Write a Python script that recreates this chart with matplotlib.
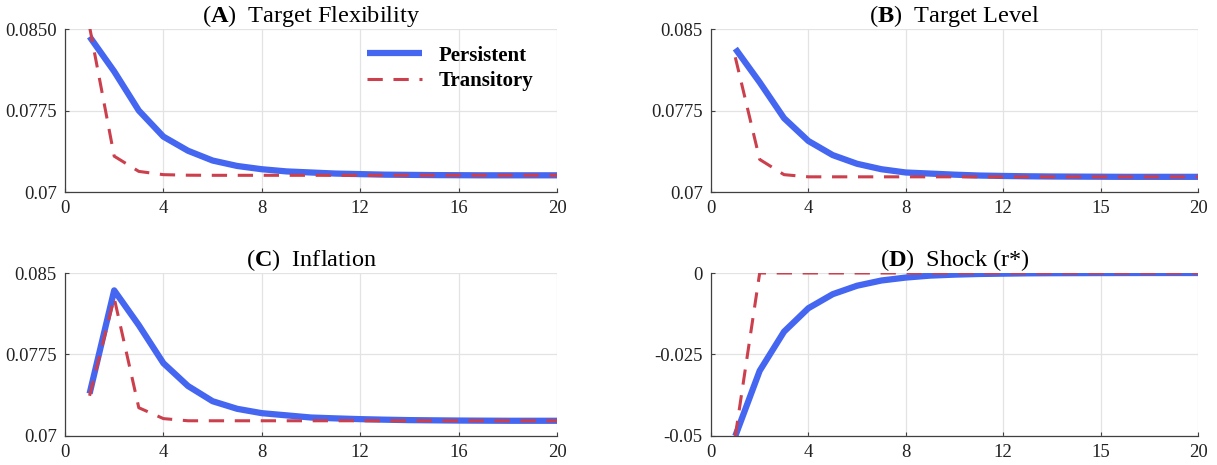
import matplotlib
matplotlib.use("Agg")
import matplotlib.pyplot as plt

plt.rcParams['font.family'] = ['Liberation Serif', 'DejaVu Serif']
plt.rcParams['mathtext.fontset'] = 'custom'
plt.rcParams['mathtext.rm'] = 'Liberation Serif'
plt.rcParams['mathtext.bf'] = 'Liberation Serif:bold'

periods = list(range(1, 21))

# (A) Target Flexibility
flex_pers = [0.0843, 0.0811, 0.0775, 0.0751, 0.0738, 0.0729, 0.0724, 0.0721, 0.0719, 0.0718,
             0.0717, 0.07165, 0.0716, 0.07158, 0.07156, 0.07155, 0.07154, 0.07154, 0.07154, 0.07154]
flex_trans = [0.0852, 0.0733, 0.0719, 0.0716, 0.07155, 0.07154, 0.07154, 0.07154, 0.07154, 0.07154,
              0.07154, 0.07154, 0.07154, 0.07154, 0.07154, 0.07154, 0.07154, 0.07154, 0.07154, 0.07154]

# (B) Target Level
level_pers = [0.0832, 0.0801, 0.0768, 0.0747, 0.0734, 0.0726, 0.0721, 0.0718, 0.0717, 0.0716,
              0.07152, 0.07148, 0.07145, 0.07143, 0.07142, 0.07141, 0.0714, 0.0714, 0.0714, 0.0714]
level_trans = [0.0824, 0.0730, 0.0716, 0.0714, 0.0714, 0.0714, 0.0714, 0.0714, 0.0714, 0.0714,
               0.0714, 0.0714, 0.0714, 0.0714, 0.0714, 0.0714, 0.0714, 0.0714, 0.0714, 0.0714]

# (C) Inflation
infl_pers = [0.0739, 0.0834, 0.0802, 0.0767, 0.0746, 0.0732, 0.0725, 0.0721, 0.0719, 0.0717,
             0.07162, 0.07155, 0.0715, 0.07146, 0.07144, 0.07142, 0.07141, 0.0714, 0.0714, 0.0714]
infl_trans = [0.0737, 0.0827, 0.0726, 0.0716, 0.0714, 0.0714, 0.0714, 0.0714, 0.0714, 0.0714,
              0.0714, 0.0714, 0.0714, 0.0714, 0.0714, 0.0714, 0.0714, 0.0714, 0.0714, 0.0714]

# (D) Shock (r*)
shock_pers = [-0.05, -0.030, -0.018, -0.0108, -0.0065, -0.0039, -0.0023, -0.0014, -0.0008, -0.0005,
              -0.0003, -0.0002, -0.0001, -0.00006, -0.00004, -0.00002, -0.00001, 0.0, 0.0, 0.0]
shock_trans = [-0.05, 0.0, 0.0, 0.0, 0.0, 0.0, 0.0, 0.0, 0.0, 0.0,
               0.0, 0.0, 0.0, 0.0, 0.0, 0.0, 0.0, 0.0, 0.0, 0.0]

titles = ["A", "B", "C", "D"]
names = ["Target Flexibility", "Target Level", "Inflation", "Shock (r*)"]
series = [(flex_pers, flex_trans), (level_pers, level_trans),
          (infl_pers, infl_trans), (shock_pers, shock_trans)]
ylims = [(0.07, 0.085), (0.07, 0.085), (0.07, 0.085), (-0.05, 0.0)]
yticks = [[0.07, 0.0775, 0.085], [0.07, 0.0775, 0.085], [0.07, 0.0775, 0.085], [-0.05, -0.025, 0.0]]
yticklabels = [["0.07", "0.0775", "0.0850"], ["0.07", "0.0775", "0.085"],
               ["0.07", "0.0775", "0.085"], ["-0.05", "-0.025", "0"]]
xticklabels = [["0", "4", "8", "12", "16", "20"], ["0", "4", "8", "12", "15", "20"],
               ["0", "4", "8", "12", "16", "20"], ["0", "4", "8", "12", "15", "20"]]

blue = "#4466F0"
red = "#CC3F4C"

fig = plt.figure(figsize=(12.17, 4.65), dpi=100)
positions = [[0.0534, 0.587, 0.4043, 0.3505], [0.5842, 0.587, 0.4002, 0.3505],
             [0.0534, 0.0624, 0.4043, 0.3505], [0.5842, 0.0624, 0.4002, 0.3505]]

for i in range(4):
    ax = fig.add_axes(positions[i])
    pers, trans = series[i]
    ax.plot(periods, pers, color=blue, lw=4.5, label="Persistent", solid_capstyle="butt", zorder=2)
    ax.plot(periods, trans, color=red, lw=2.2, ls=(0, (5, 3.5)), label="Transitory", zorder=3)
    ax.set_xlim(0, 20)
    ax.set_ylim(*ylims[i])
    ax.set_xticks([0, 4, 8, 12, 16, 20])
    ax.set_xticklabels(xticklabels[i])
    ax.set_yticks(yticks[i])
    ax.set_yticklabels(yticklabels[i])
    ax.grid(True, color="#e3e3e3", lw=0.9)
    ax.set_axisbelow(True)
    for s in ["top", "right"]:
        ax.spines[s].set_visible(False)
    for s in ["left", "bottom"]:
        ax.spines[s].set_color("#404040")
        ax.spines[s].set_linewidth(0.9)
    ax.tick_params(direction="in", length=3, width=0.8, color="#404040", labelsize=13.5,
                   labelcolor="#222222", pad=6)
    ax.set_title(r"($\mathbf{" + titles[i] + r"}$)  " + names[i], fontsize=17.5, pad=4)
    if i == 0:
        leg = ax.legend(loc="upper right", frameon=False, handlelength=2.6,
                        prop={"weight": "bold", "size": 15}, borderaxespad=0.4,
                        bbox_to_anchor=(0.985, 1.0), labelspacing=0.25)

fig.savefig("out.png", dpi=100)
